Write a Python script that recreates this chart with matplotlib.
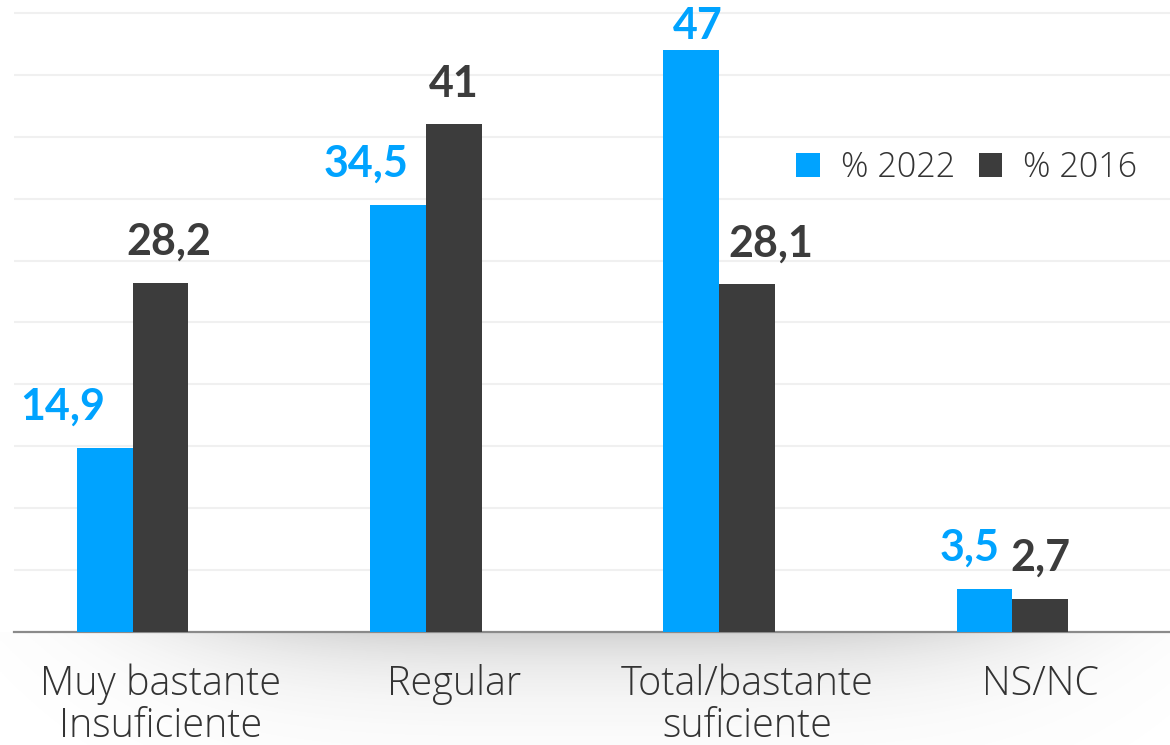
import numpy as np
import matplotlib
matplotlib.use("Agg")
import matplotlib.pyplot as plt

# data
categories = ["Muy bastante\nInsuficiente", "Regular", "Total/bastante\nsuficiente", "NS/NC"]
pct_2022 = [14.9, 34.5, 47, 3.5]
pct_2016 = [28.2, 41, 28.1, 2.7]
labels_2022 = ["14,9", "34,5", "47", "3,5"]
labels_2016 = ["28,2", "41", "28,1", "2,7"]

BLUE = "#00a3ff"
DARK = "#3c3c3c"

plt.rcParams["font.family"] = ["Lato", "DejaVu Sans"]
LIGHT = ["Open Sans", "DejaVu Sans"]

fig = plt.figure(figsize=(11.7, 7.45), dpi=100)

# soft shadow under the baseline
sh = fig.add_axes([0.0, 0.0, 1.0, 0.1517], zorder=0)
w, h = 600, 120
xx = np.linspace(0, 1, w)
yy = np.linspace(0, 1, h)
X, Y = np.meshgrid(xx, yy)
alpha = 0.32 * np.exp(-((X - 0.52) / 0.38) ** 4) * np.exp(-Y / 0.4)
img = np.zeros((h, w, 4))
img[..., :3] = 0.45
img[..., 3] = alpha
sh.imshow(img, extent=[0, 1, 0, 1], aspect="auto", origin="upper")
sh.axis("off")

ax = fig.add_axes([0.012, 0.1517, 0.988, 0.8483], zorder=1)
ax.patch.set_alpha(0)

x = np.arange(len(categories))
bw = 0.19
b1 = ax.bar(x - bw / 2, pct_2022, bw, color=BLUE, label="% 2022", zorder=3)
b2 = ax.bar(x + bw / 2, pct_2016, bw, color=DARK, label="% 2016", zorder=3)

ax.set_xlim(-0.404, 3.537)
ax.set_ylim(0, 51.05)
ax.set_yticks(np.arange(5, 51, 5))
ax.yaxis.grid(True, color="#f0f0f0", linewidth=1.5)
ax.set_axisbelow(True)
ax.tick_params(left=False, labelleft=False, bottom=False, labelbottom=False)
for s in ["top", "right", "left"]:
    ax.spines[s].set_visible(False)
ax.spines["bottom"].set_color("#8a8a8a")
ax.spines["bottom"].set_linewidth(1.6)

# value labels (nudges)
dx_2022 = [-30, -23, 5, -11]
dy_2022 = [15, 15, 3, 15]
dx_2016 = [6, 0, 17, 0]
dy_2016 = [15, 15, 15, 15]
for i, r in enumerate(b1):
    ax.annotate(labels_2022[i], (r.get_x() + r.get_width() / 2, r.get_height()),
                xytext=(dx_2022[i], dy_2022[i]), textcoords="offset points",
                ha="center", va="bottom", fontsize=31, fontweight="bold",
                color=BLUE, annotation_clip=False)
for i, r in enumerate(b2):
    ax.annotate(labels_2016[i], (r.get_x() + r.get_width() / 2, r.get_height()),
                xytext=(dx_2016[i], dy_2016[i]), textcoords="offset points",
                ha="center", va="bottom", fontsize=31, fontweight="bold",
                color=DARK, annotation_clip=False)

# category labels, centred a little right of the pair as in the reference
for i, c in enumerate(categories):
    ax.annotate(c, (x[i] + bw / 2, 0), xytext=(0, -23), textcoords="offset points",
                ha="center", va="top", fontsize=28.5, fontweight="light",
                family=LIGHT, color="#333333", linespacing=1.02,
                annotation_clip=False)

leg = ax.legend(loc="upper right", bbox_to_anchor=(0.995, 0.805), ncol=2,
                frameon=True, prop={"family": LIGHT, "weight": "light", "size": 24.5},
                handlelength=0.7, handleheight=0.7, columnspacing=0.7,
                handletextpad=0.6, borderpad=0.3)
leg.get_frame().set_edgecolor("none")
leg.get_frame().set_facecolor("white")
leg.get_frame().set_alpha(1)
for t in leg.get_texts():
    t.set_color("#333333")

fig.savefig("out.png", dpi=100)
